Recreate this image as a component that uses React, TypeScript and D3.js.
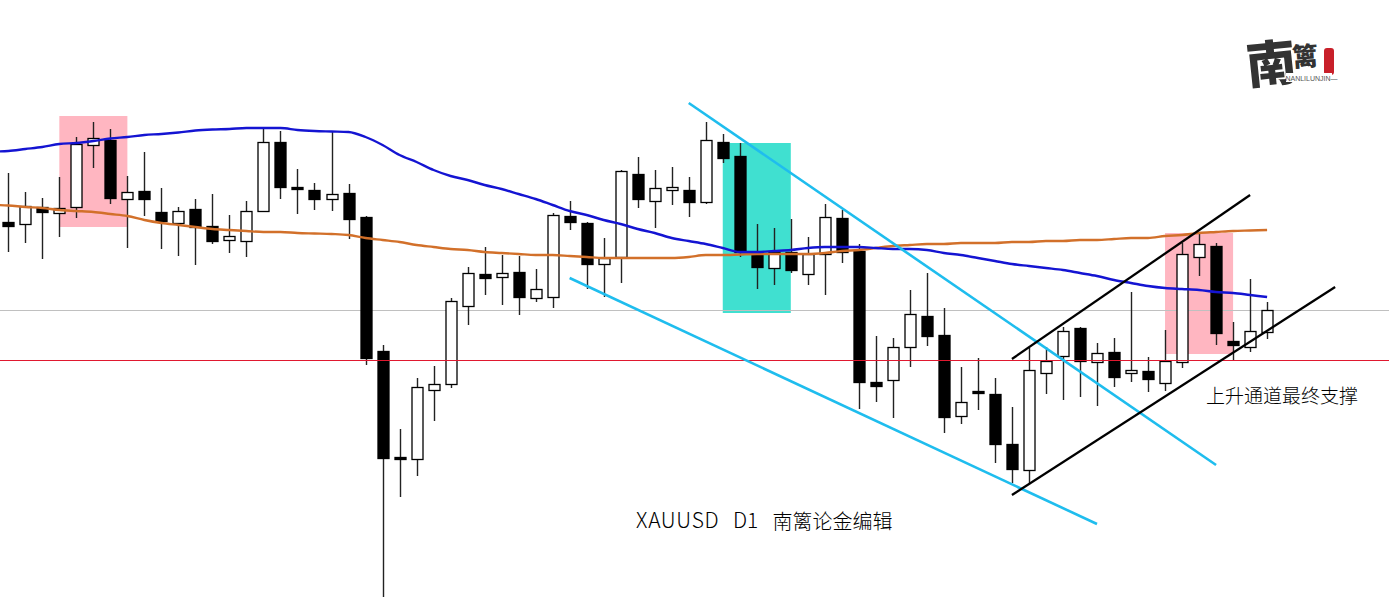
import React from "react";
import * as d3 from "d3";

const W = 1389, H = 602;

const opens = [1778,1776,1793,1787,1793,1855,1860,1801,1809,1788,1777,1791,1774,1760,1759,1789,1858,1813,1810,1801,1807,
  1783,1649,1543,1541,1610,1616,1694,1726,1723,1728,1702,1703,1784,1777,1736,1743,1826,1799,1810,
  1810,1798,1858,1844,1748,1732,1748,1726,1746,1782,1749,1618,1620,1653,1684,1665,1584,1609,1606,1556,1530,1627,1644,1672,1638,1648,1627,1629,1617,1638,1743,1754,1659,1653,1668];
const closes = [1774,1794,1788,1792,1856,1862,1802,1808,1801,1779,1789,1773,1759,1764,1789,1858,1813,1811,1801,1806,1781,
  1642,1542,1541,1613,1616,1699,1727,1722,1727,1703,1711,1785,1778,1736,1742,1829,1801,1812,1813,
  1798,1860,1842,1748,1733,1748,1730,1746,1783,1748,1618,1614,1653,1686,1664,1583,1598,1607,1556,1531,1630,1639,1669,1639,1647,1623,1630,1621,1639,1746,1756,1667,1655,1669,1690];
const highs = [1827,1808,1802,1823,1863,1878,1871,1824,1848,1812,1793,1801,1806,1785,1799,1872,1869,1831,1817,1868,1816,
  1784,1655,1571,1622,1634,1702,1733,1753,1745,1744,1731,1787,1799,1778,1762,1830,1843,1830,1833,
  1823,1878,1866,1857,1776,1772,1781,1763,1796,1790,1756,1664,1662,1710,1727,1692,1633,1642,1622,1593,1652,1653,1673,1673,1657,1662,1708,1643,1670,1757,1767,1757,1678,1721,1698];
const lows = [1748,1757,1741,1763,1782,1832,1796,1752,1784,1751,1744,1735,1756,1747,1743,1788,1801,1786,1790,1789,1761,
  1635,1403,1503,1524,1579,1612,1675,1705,1695,1685,1698,1692,1770,1711,1703,1717,1792,1772,1795,
  1783,1796,1837,1743,1711,1715,1727,1715,1705,1737,1591,1598,1582,1633,1654,1567,1576,1590,1537,1517,1516,1606,1600,1603,1594,1613,1618,1608,1609,1632,1724,1655,1640,1648,1661];

// moving averages, the first value sits one bar before the first candle
const maBlue = [1848.5,1849,1851,1853,1856,1857,1859,1861.5,1863,1865,1866,1867.5,1869.5,1870.5,1871,1872,1872,1872,1870,1869,1868.5,1868,
  1863,1855,1845,1838,1830,1824,1820,1815,1811,1806,1801,1795,1789,1785,1780,1776,1771,1767,1762,1759,1756,1752,1748,1748,1749,1750,1752,1753,1753,1753,1752,1751,1751,1750,1747,1745,1742,1739,1736,1734,1732,1730,1727,1724,1720,1717,1714,1712,1711,1710,1708,1707,1705,1703];
const maOrange = [1795,1794.5,1793,1792,1790,1789,1788,1786,1784,1780,1777,1775,1773,1771,1770,1769,1768,1768,1767,1766.5,1766,1765,
  1762,1760,1758,1755,1753,1751,1750,1748,1747,1746,1745,1745,1744,1743,1742,1742,1742,1742,1742,1743,1745,1745,1745.5,1746,1746,1746,1746,1747,1749,1750,1752,1754,1755,1756,1756,1757,1757,1757,1758,1758,1759,1759,1760,1760,1761,1762,1762,1764,1765,1767,1768,1769,1769.5,1770];

// highlighted ranges: first bar, last bar, upper and lower price
const zoneBars = [[3, 7], [42, 46], [68, 72]];
const zonePrices = [[1884, 1773], [1857, 1687], [1767, 1646]];
const zoneColors = ["#FFB6C1", "#40E0D0", "#FFB6C1"];

// trend lines: first bar, first price, last bar, last price
const cyanLines = [[40, 1897, 71, 1535], [33, 1722, 64, 1476]];
const blackLines = [[59, 1641, 73, 1805], [59, 1505, 78, 1713]];

const greyLevel = 1690;
const redLevel = 1640;

const channelNote = "上升通道最终支撑";
const titleSymbol = "XAUUSD";
const titlePeriod = "D1";
const titleAuthor = "南篱论金编辑";
const logoMain = "南";
const logoSecond = "篱";
const logoSub = "—NANLILUNJIN—";

const CJK = "'Noto Sans CJK SC', 'Noto Sans', sans-serif";

export default function App() {
  const x = d3.scaleLinear().domain([0, 74]).range([8.3, 1267.1]);
  const y = d3.scaleLinear().domain([1398, 2000]).range([602, 0]);
  const maLine = d3.line<number>().x((_, i) => x(i - 1)).y((d) => y(d)).curve(d3.curveMonotoneX);
  const bodyW = 11;
  const px = (v: number) => Math.round(v) + 0.5;

  return (
    <svg width={W} height={H} viewBox={`0 0 ${W} ${H}`} style={{ position: "fixed", left: 0, top: 0, background: "#fff" }}>
      {zoneBars.map((b, i) => (
        <rect key={i} x={x(b[0])} width={x(b[1]) - x(b[0])} y={y(zonePrices[i][0])} height={y(zonePrices[i][1]) - y(zonePrices[i][0])} fill={zoneColors[i]} />
      ))}
      <line x1={0} x2={W} y1={y(greyLevel) + 0.5} y2={y(greyLevel) + 0.5} stroke="#c0c0c0" strokeWidth={1} />
      {opens.map((o, i) => {
        const c = closes[i];
        const up = c >= o;
        const top = Math.round(y(Math.max(o, c)));
        const bot = Math.round(y(Math.min(o, c)));
        const cx = px(x(i));
        return (
          <g key={i}>
            <line x1={cx} x2={cx} y1={y(highs[i])} y2={y(lows[i])} stroke="#222" strokeWidth={1.4} />
            <rect x={cx - bodyW / 2} y={top + 0.5} width={bodyW} height={Math.max(bot - top, 1)} fill={up ? "#fff" : "#000"} stroke="#000" strokeWidth={1.3} />
          </g>
        );
      })}
      <line x1={0} x2={W} y1={y(redLevel) + 0.5} y2={y(redLevel) + 0.5} stroke="#E0182F" strokeWidth={1} />
      <path d={maLine(maOrange) ?? ""} fill="none" stroke="#D2702A" strokeWidth={2.4} />
      <path d={maLine(maBlue) ?? ""} fill="none" stroke="#1414D2" strokeWidth={2.4} />
      {cyanLines.map((l, i) => (
        <line key={i} x1={x(l[0])} y1={y(l[1])} x2={x(l[2])} y2={y(l[3])} stroke="#1FBDEE" strokeWidth={2.6} />
      ))}
      {blackLines.map((l, i) => (
        <line key={i} x1={x(l[0])} y1={y(l[1])} x2={x(l[2])} y2={y(l[3])} stroke="#000" strokeWidth={2.3} />
      ))}
      <text x={1206} y={403} fontFamily={CJK} fontSize={19} fontWeight={300} fill="#000">{channelNote}</text>
      <g fontFamily={CJK} fill="#000" fontWeight={300}>
        <text x={636} y={528} fontSize={21} letterSpacing={0.7}>{titleSymbol}</text>
        <text x={733} y={528} fontSize={21}>{titlePeriod}</text>
        <text x={772.5} y={529} fontSize={20}>{titleAuthor}</text>
      </g>
      <g fill="#333" fontFamily={CJK} fontWeight={900}>
        <text x={1246} y={82} fontSize={50} transform="rotate(-6 1268 62)">{logoMain}</text>
        <text x={1292} y={66} fontSize={26} transform="rotate(-4 1304 54)">{logoSecond}</text>
      </g>
      <rect x={1324} y={48} width={10} height={27} rx={3} fill="#C8202A" />
      <rect x={1286} y={73} width={46} height={9} fill="#fff" />
      <text x={1308} y={80.5} fontFamily="'Liberation Sans Narrow', 'Liberation Sans', sans-serif" fontSize={7} fill="#555" textAnchor="middle">{logoSub}</text>
    </svg>
  );
}
